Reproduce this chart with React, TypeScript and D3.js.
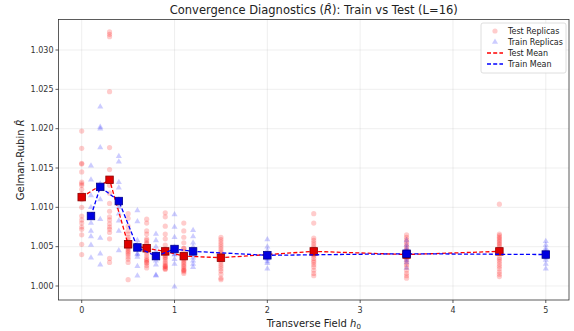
import React from "react";
import * as d3 from "d3";

// Transverse-field values sampled for each split
const testH = [0, 0.3, 0.5, 0.7, 0.9, 1.1, 1.5, 2.5, 3.5, 4.5];
const trainH = [0.1, 0.2, 0.4, 0.6, 0.8, 1.0, 1.2, 2.0, 3.5, 5.0];

// Mean R-hat per field value
const testMean = [1.0113, 1.0135, 1.0053, 1.0048, 1.0044, 1.0038, 1.0036, 1.0044, 1.004, 1.0044];
const trainMean = [1.0089, 1.0126, 1.0108, 1.0049, 1.0038, 1.0047, 1.0044, 1.0039, 1.0041, 1.004];

// Per-replica R-hat values (one row per field value)
const testReplicas = [
  [1.0197, 1.0175, 1.0156, 1.0155, 1.0145, 1.013, 1.0128, 1.0123, 1.0117, 1.011, 1.01, 1.0089, 1.0084, 1.008, 1.0075, 1.0072, 1.0065, 1.0053, 1.004, 1.0132],
  [1.0323, 1.032, 1.0317, 1.0247, 1.0176, 1.0148, 1.0135, 1.0128, 1.0118, 1.0105, 1.0095, 1.0088, 1.0084, 1.0079, 1.0075, 1.0072, 1.0068, 1.006, 1.0035, 1.003],
  [1.0092, 1.0086, 1.0076, 1.007, 1.0066, 1.0062, 1.0059, 1.0056, 1.0054, 1.0052, 1.005, 1.0048, 1.0046, 1.0044, 1.0042, 1.004, 1.0037, 1.0034, 1.003, 1.0008],
  [1.0085, 1.008, 1.007, 1.0066, 1.006, 1.0055, 1.0058, 1.0054, 1.005, 1.0047, 1.0044, 1.0041, 1.0038, 1.0035, 1.0032, 1.0029, 1.0026, 1.0023, 1.003, 1.0033],
  [1.0093, 1.0088, 1.0076, 1.0066, 1.006, 1.0052, 1.0047, 1.0042, 1.0039, 1.0036, 1.0037, 1.0034, 1.0031, 1.0029, 1.0027, 1.0025, 1.0023, 1.0021, 1.0025, 1.0022],
  [1.008, 1.007, 1.0062, 1.0055, 1.0048, 1.0048, 1.0044, 1.004, 1.0037, 1.0034, 1.0032, 1.003, 1.0028, 1.0026, 1.0024, 1.0022, 1.002, 1.0018, 1.0016, 1.002],
  [1.0062, 1.0059, 1.0056, 1.0053, 1.005, 1.0047, 1.0044, 1.0042, 1.004, 1.0038, 1.0036, 1.0034, 1.0031, 1.0028, 1.0025, 1.0022, 1.0019, 1.0015, 1.001, 1.0008],
  [1.0092, 1.008, 1.0061, 1.0058, 1.0055, 1.0052, 1.0049, 1.0046, 1.0044, 1.0042, 1.004, 1.0038, 1.0035, 1.0032, 1.003, 1.0027, 1.0024, 1.002, 1.0016, 1.0013],
  [1.0065, 1.0062, 1.0059, 1.0056, 1.0053, 1.005, 1.0047, 1.0044, 1.0042, 1.004, 1.0038, 1.0036, 1.0033, 1.003, 1.0027, 1.0024, 1.002, 1.0016, 1.0013, 1.001],
  [1.0104, 1.0066, 1.0064, 1.0062, 1.006, 1.0058, 1.0056, 1.0054, 1.0052, 1.005, 1.0047, 1.0036, 1.0034, 1.0031, 1.0028, 1.0025, 1.0022, 1.0018, 1.0015, 1.0012],
];
const trainReplicas = [
  [1.0153, 1.0135, 1.0115, 1.01, 1.0088, 1.008, 1.0063, 1.0052, 1.0036, 1.007],
  [1.0228, 1.0202, 1.02, 1.0176, 1.013, 1.011, 1.0085, 1.0061, 1.0041, 1.0027],
  [1.0165, 1.0158, 1.0132, 1.0125, 1.011, 1.01, 1.0092, 1.0083, 1.007, 1.0045],
  [1.0096, 1.0082, 1.0058, 1.0052, 1.0047, 1.0041, 1.004, 1.0037, 1.0025, 1.0013],
  [1.0066, 1.0058, 1.005, 1.0044, 1.004, 1.0036, 1.0032, 1.0027, 1.0014, 1.0013],
  [1.0091, 1.0075, 1.0062, 1.005, 1.004, 1.0046, 1.004, 1.0034, 1.0028, 0.9999],
  [1.0071, 1.0063, 1.0055, 1.005, 1.0045, 1.004, 1.0036, 1.0032, 1.0028, 1.0024],
  [1.0059, 1.005, 1.0045, 1.0041, 1.0038, 1.0036, 1.0034, 1.0031, 1.0029, 1.0022],
  [1.0058, 1.0052, 1.0048, 1.0045, 1.0042, 1.0039, 1.0036, 1.0033, 1.003, 1.0023],
  [1.0057, 1.0052, 1.0048, 1.0045, 1.0042, 1.0039, 1.0036, 1.0033, 1.0028, 1.0022],
];

const xTicks = [0, 1, 2, 3, 4, 5];
const yTicks = [1.0, 1.005, 1.01, 1.015, 1.02, 1.025, 1.03];

const W = 574;
const H = 331;
const M = { left: 58.5, right: 569, top: 19.5, bottom: 300 };
const FONT = "DejaVu Sans, sans-serif";

export default function App() {
  const x = d3.scaleLinear().domain([-0.25, 5.25]).range([M.left, M.right]);
  const y = d3.scaleLinear().domain([0.99822, 1.03388]).range([M.bottom, M.top]);

  const line = d3
    .line<[number, number]>()
    .x((d) => x(d[0]))
    .y((d) => y(d[1]));

  const testPts: [number, number][] = testH.map((h, i) => [h, testMean[i]]);
  const trainPts: [number, number][] = trainH.map((h, i) => [h, trainMean[i]]);

  const tri = d3.symbol().type(d3.symbolTriangle).size(16)();
  const sq = 7.5;

  return (
    <svg
      width={W}
      height={H}
      style={{ position: "absolute", left: 0, top: 0, background: "#fff" }}
      fontFamily={FONT}
    >
      {/* grid */}
      <g stroke="#b0b0b0" strokeOpacity={0.3} strokeWidth={0.7}>
        {xTicks.map((t) => (
          <line key={"gx" + t} x1={x(t)} x2={x(t)} y1={M.top} y2={M.bottom} />
        ))}
        {yTicks.map((t) => (
          <line key={"gy" + t} x1={M.left} x2={M.right} y1={y(t)} y2={y(t)} />
        ))}
      </g>

      {/* replicas */}
      <g fill="#ff0000" fillOpacity={0.2}>
        {testReplicas.map((row, i) =>
          row.map((v, j) => <circle key={`t${i}-${j}`} cx={x(testH[i])} cy={y(v)} r={2.6} />)
        )}
      </g>
      <g fill="#0000ff" fillOpacity={0.2}>
        {trainReplicas.map((row, i) =>
          row.map((v, j) => (
            <path key={`r${i}-${j}`} d={tri!} transform={`translate(${x(trainH[i])},${y(v)})`} />
          ))
        )}
      </g>

      {/* means */}
      <path d={line(testPts)!} fill="none" stroke="#ff0000" strokeWidth={1.3} strokeDasharray="4,2.2" />
      {testPts.map((p, i) => (
        <rect
          key={"tm" + i}
          x={x(p[0]) - sq / 2}
          y={y(p[1]) - sq / 2}
          width={sq}
          height={sq}
          fill="#e00000"
          stroke="#8b0000"
          strokeWidth={0.8}
        />
      ))}
      <path d={line(trainPts)!} fill="none" stroke="#0000ff" strokeWidth={1.3} strokeDasharray="4,2.2" />
      {trainPts.map((p, i) => (
        <rect
          key={"rm" + i}
          x={x(p[0]) - sq / 2}
          y={y(p[1]) - sq / 2}
          width={sq}
          height={sq}
          fill="#0000e0"
          stroke="#00008b"
          strokeWidth={0.8}
        />
      ))}

      {/* frame */}
      <rect
        x={M.left}
        y={M.top}
        width={M.right - M.left}
        height={M.bottom - M.top}
        fill="none"
        stroke="#333"
        strokeWidth={0.8}
      />

      {/* x axis */}
      <g fontSize={8} fill="#333" textAnchor="middle">
        {xTicks.map((t) => (
          <g key={"xt" + t}>
            <line x1={x(t)} x2={x(t)} y1={M.bottom} y2={M.bottom + 3} stroke="#333" strokeWidth={0.8} />
            <text x={x(t)} y={M.bottom + 13}>
              {t}
            </text>
          </g>
        ))}
      </g>
      {/* y axis */}
      <g fontSize={8} fill="#333" textAnchor="end">
        {yTicks.map((t) => (
          <g key={"yt" + t}>
            <line x1={M.left - 3} x2={M.left} y1={y(t)} y2={y(t)} stroke="#333" strokeWidth={0.8} />
            <text x={M.left - 5} y={y(t)} dy="0.33em">
              {d3.format(".3f")(t)}
            </text>
          </g>
        ))}
      </g>

      {/* labels */}
      <text x={(M.left + M.right) / 2} y={327} fontSize={10} fill="#222" textAnchor="middle">
        Transverse Field <tspan fontStyle="italic">h</tspan>
        <tspan fontSize={7} dy={2}>0</tspan>
      </text>
      <text
        transform={`translate(24,${(M.top + M.bottom) / 2}) rotate(-90)`}
        fontSize={10}
        fill="#222"
        textAnchor="middle"
      >
        Gelman-Rubin <tspan fontStyle="italic">R̂</tspan>
      </text>
      <text x={(M.left + M.right) / 2} y={14} fontSize={11.5} fill="#222" textAnchor="middle">
        Convergence Diagnostics (<tspan fontStyle="italic">R̂</tspan>): Train vs Test (L=16)
      </text>

      {/* legend */}
      <g>
        <rect x={481} y={23} width={85} height={50} rx={2} fill="#fff" fillOpacity={0.85} stroke="#d6d6d6" strokeWidth={0.8} />
        <circle cx={495} cy={31} r={2.6} fill="#ff0000" fillOpacity={0.2} />
        <path d={tri!} transform="translate(495,42)" fill="#0000ff" fillOpacity={0.2} />
        <line x1={487} x2={503} y1={53} y2={53} stroke="#ff0000" strokeWidth={1.3} strokeDasharray="4,2.2" />
        <line x1={487} x2={503} y1={64} y2={64} stroke="#0000ff" strokeWidth={1.3} strokeDasharray="4,2.2" />
        <g fontSize={8} fill="#222">
          <text x={508} y={31} dy="0.33em">Test Replicas</text>
          <text x={508} y={42} dy="0.33em">Train Replicas</text>
          <text x={508} y={53} dy="0.33em">Test Mean</text>
          <text x={508} y={64} dy="0.33em">Train Mean</text>
        </g>
      </g>
    </svg>
  );
}
